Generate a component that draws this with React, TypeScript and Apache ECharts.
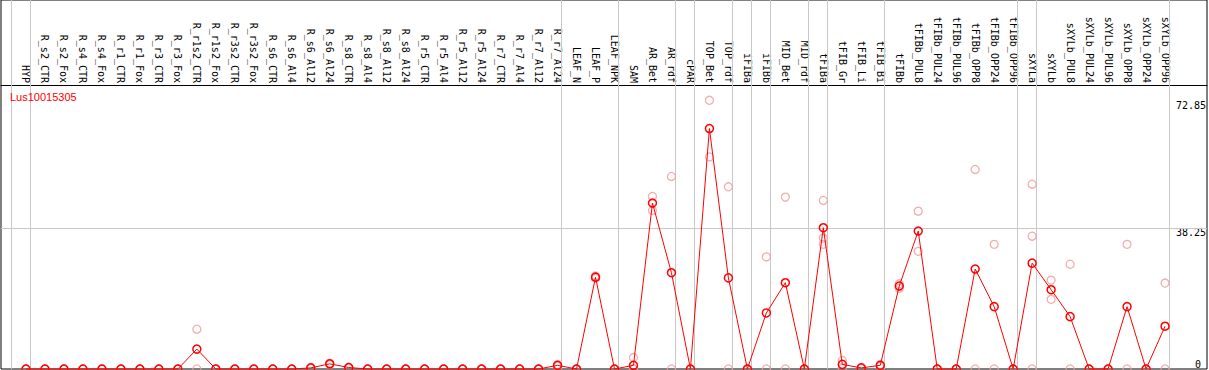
import React, { useEffect, useRef } from "react";
import * as echarts from "echarts";

const categories: string[] = [
  "HYP", "R_s2_CTR", "R_s2_Fox", "R_s4_CTR", "R_s4_Fox", "R_r1_CTR", "R_r1_Fox", "R_r3_CTR", "R_r3_Fox",
  "R_r1s2_CTR", "R_r1s2_Fox", "R_r3s2_CTR", "R_r3s2_Fox", "R_s6_CTR", "R_s6_Al4", "R_s6_Al12", "R_s6_Al24",
  "R_s8_CTR", "R_s8_Al4", "R_s8_Al12", "R_s8_Al24", "R_r5_CTR", "R_r5_Al4", "R_r5_Al12", "R_r5_Al24",
  "R_r7_CTR", "R_r7_Al4", "R_r7_Al12", "R_r7_Al24", "LEAF_N", "LEAF_P", "LEAF_NPK", "SAM", "AR_Bet", "AR_rdf",
  "cPAR", "TOP_Bet", "TOP_rdf", "iFIBa", "iFIBb", "MID_Bet", "MID_rdf", "tFIBa", "tFIB_Gr", "tFIB_Li", "tFIB_Bi",
  "tFIBb", "tFIBb_PUL8", "tFIBb_PUL24", "tFIBb_PUL96", "tFIBb_OPP8", "tFIBb_OPP24", "tFIBb_OPP96",
  "sXYLa", "sXYLb", "sXYLb_PUL8", "sXYLb_PUL24", "sXYLb_PUL96", "sXYLb_OPP8", "sXYLb_OPP24", "sXYLb_OPP96",
];

const meanValues: number[] = [
  0, 0, 0, 0, 0, 0, 0, 0, 0,
  5.4, 0, 0, 0, 0, 0, 0.3, 1.4,
  0.4, 0, 0, 0, 0, 0, 0, 0,
  0, 0, 0, 1.0, 0, 24.9, 0, 1.0, 45.0, 26.1,
  0, 65.2, 24.7, 0, 15.2, 23.4, 0, 38.3, 1.25, 0.3, 1.0,
  22.5, 37.4, 0, 0, 27.1, 16.9, 0,
  28.7, 21.5, 14.2, 0, 0, 16.9, 0, 11.6,
];

const replicateValues: number[][] = [
  [0, 0], [0, 0], [0, 0], [0, 0], [0, 0], [0, 0], [0, 0], [0, 0], [0, 0],
  [10.8, 0], [0, 0], [0, 0], [0, 0], [0, 0], [0, 0], [0.4, 0.2], [1.6, 1.2],
  [0.5, 0.3], [0, 0], [0, 0], [0, 0], [0, 0], [0, 0], [0, 0], [0, 0],
  [0, 0], [0, 0], [0, 0], [1.2, 0.8], [0, 0], [25.2, 24.6], [0, 0], [3.1, 0, 0], [46.8, 43.0], [52.2, 0],
  [0, 0], [72.85, 57.5], [49.4, 0], [0, 0], [30.4, 0], [46.6, 0], [0, 0], [45.7, 35.5, 33.8], [2.3, 0.2], [0.4, 0.2], [1.2, 0.8],
  [23.1, 21.9], [42.8, 31.9], [0, 0], [0, 0], [54.1, 0], [33.8, 0], [0, 0],
  [50.1, 36.0, 0], [24.1, 18.9], [28.4, 0], [0, 0], [0, 0], [33.8, 0], [0, 0], [23.3, 0],
];

// separators drawn after these category indices
const groupBreaks: number[] = [-1, 0, 28, 31, 34, 35, 37, 38, 39, 41, 42, 45, 52, 53, 60];
const yTickLabels: number[] = [0, 38.25, 72.85];
const gridLineValue = 38.25;
const titleText = "Lus10015305";

export default function App() {
  const ref = useRef<HTMLDivElement>(null);

  useEffect(() => {
    document.body.style.margin = "0";
    if (!ref.current) return;
    const chart = echarts.init(ref.current, null, { renderer: "svg" });

    const W = 1209;
    const H = 370;
    const gridLeft = 1;
    const gridRight = 1;
    const gridTop = 0;
    const gridBottom = 1;
    const headerH = 85;
    const plotTopValue = 77;
    const pxPerCat = 19;
    const firstX = 26;
    const gridW = W - gridLeft - gridRight;
    const gridH = H - gridTop - gridBottom;
    const xMin = -(firstX - gridLeft) / pxPerCat;
    const xMax = xMin + gridW / pxPerCat;
    const yMax = (plotTopValue * gridH) / (gridH - headerH);

    const mono = "'DejaVu Sans Mono', monospace";

    const repData: number[][] = [];
    replicateValues.forEach((arr, i) => arr.forEach((v) => repData.push([i, v])));

    const option: any = {
      animation: false,
      backgroundColor: "#ffffff",
      title: {
        text: titleText,
        left: 10,
        top: 91,
        padding: 0,
        textStyle: { color: "#ff0000", fontSize: 11, fontWeight: "normal", fontFamily: "'Liberation Sans', Arial, sans-serif" },
      },
      grid: {
        left: gridLeft,
        right: gridRight,
        top: gridTop,
        bottom: gridBottom,
        show: true,
        borderColor: "#000000",
        borderWidth: 1,
        containLabel: false,
      },
      xAxis: {
        type: "value",
        position: "top",
        offset: -headerH,
        min: xMin,
        max: xMax,
        axisLine: { show: true, onZero: false, lineStyle: { color: "#000000", width: 1 } },
        axisTick: { show: false },
        splitLine: { show: false },
        axisLabel: {
          show: true,
          customValues: categories.map((_, i) => i),
          formatter: (v: number) => categories[Math.round(v)] ?? "",
          rotate: 90,
          margin: 2,
          fontFamily: mono,
          fontSize: 10,
          color: "#000000",
        },
      },
      yAxis: [
        {
          type: "value",
          position: "right",
          min: 0,
          max: yMax,
          axisLine: { show: false },
          axisTick: { show: false },
          splitLine: { show: false },
          axisLabel: {
            show: true,
            inside: true,
            margin: 1,
            customValues: yTickLabels.filter((v) => v !== 0),
            verticalAlign: "top",
            fontFamily: mono,
            fontSize: 10,
            color: "#000000",
          },
        },
        {
          type: "value",
          position: "right",
          min: 0,
          max: yMax,
          axisLine: { show: false },
          axisTick: { show: false },
          splitLine: { show: false },
          axisLabel: {
            show: true,
            inside: true,
            margin: 6,
            customValues: yTickLabels.filter((v) => v === 0),
            verticalAlign: "bottom",
            fontFamily: mono,
            fontSize: 10,
            color: "#000000",
          },
        },
      ],
      series: [
        {
          type: "scatter",
          name: "replicates",
          data: repData,
          symbol: "circle",
          symbolSize: 8,
          clip: false,
          z: 2,
          itemStyle: { color: "rgba(0,0,0,0)", borderColor: "#f09a9a", borderWidth: 1.3 },
          markLine: {
            silent: true,
            symbol: ["none", "none"],
            label: { show: false },
            z: 1,
            lineStyle: { color: "#c8c8c8", type: "solid", width: 1 },
            data: [
              ...groupBreaks.map((b) => ({ xAxis: b + 0.22 })),
              { yAxis: gridLineValue },
            ],
          },
        },
        {
          type: "line",
          name: "mean",
          data: meanValues.map((v, i) => [i, v]),
          symbol: "circle",
          symbolSize: 8,
          showAllSymbol: true,
          clip: false,
          z: 3,
          lineStyle: { color: "#ff0000", width: 1 },
          itemStyle: { color: "rgba(0,0,0,0)", borderColor: "#ff0000", borderWidth: 1.5 },
        },
      ],
    };

    chart.setOption(option);
    return () => chart.dispose();
  }, []);

  return <div ref={ref} style={{ width: 1209, height: 370 }} />;
}
